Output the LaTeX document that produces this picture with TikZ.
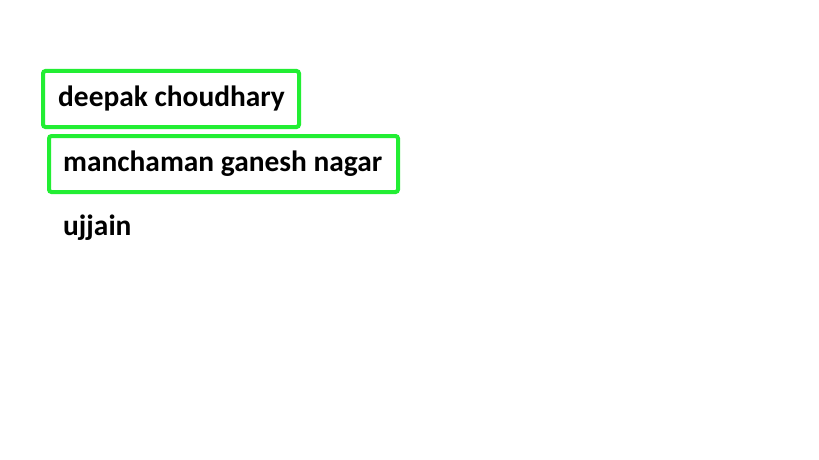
\documentclass[tikz,border=0pt]{standalone}
\usepackage{fontspec}
\setmainfont{Carlito}
\definecolor{boxgreen}{RGB}{34,238,51}
\begin{document}
\begin{tikzpicture}[x=1pt,y=-1pt,
  lbl/.style={anchor=base west,inner sep=0pt,font=\bfseries\fontsize{29.4}{34}\selectfont},
  gbox/.style={draw=boxgreen,line width=4pt,rounded corners=2.5pt,inner sep=0pt}]
\useasboundingbox[fill=white] (0,0) rectangle (819,460);
\node[gbox,minimum width=256pt,minimum height=56pt] (b1) at (171,99) {};
\node[gbox,minimum width=349pt,minimum height=56pt] (b2) at (223.5,164) {};
\node[lbl] (t1) at (58,106) {deepak choudhary};
\node[lbl] (t2) at (63,171) {manchaman ganesh nagar};
\node[lbl] (t3) at (63,235) {ujjain};
\end{tikzpicture}
\end{document}
